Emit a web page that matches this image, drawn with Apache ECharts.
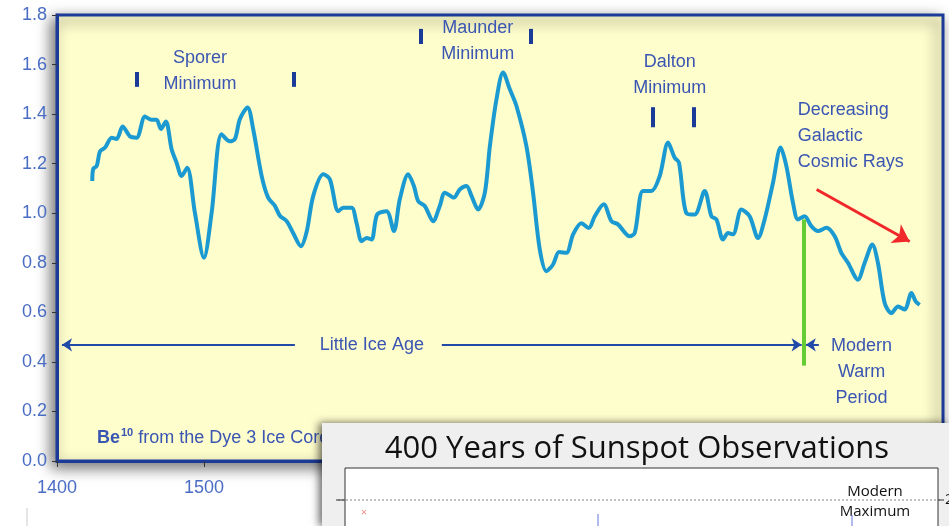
<!DOCTYPE html>
<html>
<head>
<meta charset="utf-8">
<script src="https://cdn.jsdelivr.net/npm/echarts@6/dist/echarts.min.js"></script>
<style>
  html, body { margin: 0; padding: 0; background: #fff; }
  #main { width: 949px; height: 526px; }
</style>
</head>
<body>
<div id="main"></div>
<script>
// Be10 record, Dye 3 ice core
var years = [1424, 1424.7, 1427, 1429.3, 1432.7, 1437.2, 1440.6, 1444.7, 1449.7, 1454.2,
    1459.9, 1464.4, 1467.8, 1470.7, 1474.1, 1478, 1481.4, 1484.8, 1488.6, 1493.9,
    1500, 1505.2, 1512, 1517.7, 1521.1, 1524.5, 1529.7, 1533.5, 1539.3, 1543.7,
    1548.3, 1551.7, 1556.3, 1560.7, 1566, 1569.9, 1574.4, 1581.2, 1585.7, 1591.4,
    1594.8, 1600.5, 1603.9, 1607.3, 1610.7, 1614.1, 1617.9, 1624.3, 1629.3, 1633.3,
    1639, 1642.9, 1645.8, 1650.3, 1656, 1660.5, 1664, 1670.1, 1674.1, 1678.7,
    1682.1, 1686.6, 1691.2, 1694.6, 1699.1, 1703.6, 1708.2, 1712.7, 1719.5, 1724,
    1728.6, 1733.1, 1737.6, 1741.7, 1746.7, 1751.2, 1756.9, 1761.9, 1766, 1772.1,
    1777.3, 1781.8, 1789.8, 1793.2, 1798.8, 1804.6, 1810.2, 1815.9, 1820.4, 1823.3,
    1828.4, 1834, 1840.8, 1845.4, 1848.8, 1853.3, 1856.7, 1860.1, 1865.8, 1871.4,
    1877.1, 1881.6, 1887.3, 1892.5, 1896.4, 1900.9, 1904.3, 1908.8, 1913.4, 1917.9,
    1923.6, 1929.3, 1933.8, 1938.3, 1945.1, 1949.7, 1954.9, 1958.7, 1963.3, 1967.8,
    1972.4, 1976.9, 1981.5, 1984.4, 1987.1]
var be10 = [1.13, 1.18, 1.19, 1.25, 1.265, 1.305, 1.30, 1.35, 1.31, 1.305,
    1.39, 1.377, 1.377, 1.34, 1.37, 1.258, 1.204, 1.15, 1.184, 1.00,
    0.82, 1.00, 1.319, 1.29, 1.30, 1.38, 1.427, 1.34, 1.15, 1.063,
    1.03, 0.99, 0.968, 0.92, 0.867, 0.925, 1.07, 1.157, 1.137, 1.008,
    1.022, 1.022, 0.96, 0.887, 0.90, 0.894, 0.995, 1.008, 0.928, 1.056,
    1.157, 1.11, 1.049, 1.029, 0.968, 1.029, 1.083, 1.063, 1.096, 1.11,
    1.07, 1.015, 1.083, 1.27, 1.46, 1.568, 1.50, 1.433, 1.27, 1.083,
    0.853, 0.766, 0.793, 0.843, 0.84, 0.914, 0.96, 0.94, 0.988, 1.036,
    0.968, 0.955, 0.907, 0.92, 1.09, 1.09, 1.15, 1.285, 1.224, 1.204,
    1.00, 0.995, 1.09, 0.988, 0.975, 0.894, 0.92, 0.915, 1.015, 0.988,
    0.90, 0.975, 1.123, 1.265, 1.19, 1.042, 0.975, 0.988, 0.948, 0.928,
    0.941, 0.907, 0.84, 0.80, 0.732, 0.80, 0.874, 0.80, 0.638, 0.597,
    0.624, 0.611, 0.678, 0.644, 0.63]

// start / end of the solar minima (year marks)
var minimaMarks = [1454.4, 1561.2, 1647.6, 1722.4, 1805.4, 1833.3]
var minimaMarkY = [[1.51, 1.57], [1.51, 1.57], [1.683, 1.744], [1.683, 1.744], [1.347, 1.428], [1.347, 1.428]]

var blue = '#1c3a97'
var textBlue = '#3a56b2'
var labelFont = 'Liberation Sans'

var myChart = echarts.init(document.getElementById('main'))

var seriesData = years.map(function(y, i) { return [y, be10[i]] })

var marks = minimaMarks.map(function(x, i) {
    return [
        { coord: [x, minimaMarkY[i][0]], symbol: 'none', lineStyle: { color: blue, width: 4, type: 'solid' } },
        { coord: [x, minimaMarkY[i][1]], symbol: 'none' }
    ]
})

var arrowStyle = { color: '#2149a8', width: 2, type: 'solid' }

var lines = marks.concat([
    // Little Ice Age arrow (two halves around the label)
    [{ coord: [1403.4, 0.469], symbol: 'arrow', symbolSize: 10, lineStyle: arrowStyle },
     { coord: [1561.9, 0.469], symbol: 'none' }],
    [{ coord: [1661.9, 0.469], symbol: 'none', lineStyle: arrowStyle },
     { coord: [1906.8, 0.469], symbol: 'arrow', symbolSize: 10 }],
    [{ coord: [1918.5, 0.469], symbol: 'none', lineStyle: arrowStyle },
     { coord: [1909.6, 0.469], symbol: 'arrow', symbolSize: 10 }],
    // boundary of the modern warm period
    [{ coord: [1908.2, 0.975], symbol: 'none', lineStyle: { color: '#66cc33', width: 4, type: 'solid' } },
     { coord: [1908.2, 0.385], symbol: 'none' }],
    // decreasing cosmic rays
    [{ coord: [1917, 1.096], symbol: 'none', lineStyle: { color: '#f0282a', width: 3, type: 'solid' } },
     { coord: [1980.3, 0.886], symbol: 'arrow', symbolSize: 16 }]
])

function note(text, x, y, align) {
    return {
        coord: [x, y],
        symbol: 'rect',
        symbolSize: 0,
        label: {
            show: true,
            position: 'inside',
            formatter: text,
            align: align || 'center',
            color: textBlue,
            fontFamily: labelFont,
            fontSize: 18,
            lineHeight: 26
        }
    }
}

var notes = [
    note('Sporer\nMinimum', 1497.3, 1.574),
    note('Maunder\nMinimum', 1686.4, 1.693),
    note('Dalton\nMinimum', 1817, 1.557),
    note('Decreasing\nGalactic\nCosmic Rays', 1904.1, 1.312, 'left'),
    note('Modern\nWarm\nPeriod', 1947.6, 0.361),
    note('Little Ice Age', 1614.3, 0.469),
    {
        coord: [1427.2, 0.093],
        symbol: 'rect',
        symbolSize: 0,
        label: {
            show: true,
            position: 'inside',
            align: 'left',
            formatter: '{b|Be}{s|10}{t| from the Dye 3 Ice Core}',
            rich: {
                b: { color: textBlue, fontFamily: labelFont, fontSize: 18, fontWeight: 'bold' },
                s: { color: textBlue, fontFamily: labelFont, fontSize: 11, fontWeight: 'bold', verticalAlign: 'top', padding: [0, 0, 10, 1] },
                t: { color: textBlue, fontFamily: labelFont, fontSize: 18 }
            }
        }
    }
]

myChart.setOption({
    animation: false,
    backgroundColor: '#ffffff',
    grid: {
        show: true,
        left: 57,
        right: 6,
        top: 15,
        bottom: 65,
        outerBoundsMode: 'none',
        containLabel: false,
        backgroundColor: '#fefdcc',
        borderColor: blue,
        borderWidth: 3,
        shadowColor: 'rgba(0,0,0,0.55)',
        shadowBlur: 14,
        shadowOffsetX: -4,
        shadowOffsetY: 5
    },
    xAxis: {
        type: 'value',
        min: 1400,
        max: 2003,
        interval: 100,
        splitLine: { show: false },
        axisLine: { lineStyle: { color: blue, width: 3 } },
        axisTick: { length: 6, lineStyle: { color: '#333', width: 1 } },
        axisLabel: {
            color: '#4a6dc4',
            fontFamily: labelFont,
            fontSize: 18,
            margin: 18,
            formatter: function(v) { return v % 100 === 0 && v < 1900 ? v : '' }
        }
    },
    yAxis: {
        type: 'value',
        min: 0,
        max: 1.8,
        interval: 0.2,
        splitLine: { show: false },
        axisLine: { show: true, lineStyle: { color: blue, width: 3 } },
        axisTick: { show: true, length: 5, lineStyle: { color: '#333', width: 1 } },
        axisLabel: {
            color: '#4a6dc4',
            fontFamily: labelFont,
            fontSize: 18,
            margin: 10,
            formatter: function(v) { return v.toFixed(1) }
        }
    },
    series: [{
        name: 'Be10',
        type: 'line',
        data: seriesData,
        smooth: 0.3,
        showSymbol: false,
        lineStyle: { color: '#1b9ad2', width: 4 },
        markLine: {
            silent: true,
            label: { show: false },
            data: lines
        },
        markPoint: {
            silent: true,
            data: notes
        }
    }],
    // inset of the second picture, laid over the bottom right corner
    graphic: [
        { type: 'rect', shape: { x: 322, y: 423, width: 627, height: 103 },
          style: { fill: '#efefef', shadowColor: 'rgba(0,0,0,0.6)', shadowBlur: 8, shadowOffsetX: -3 }, z: 100 },
        { type: 'text', x: 637, y: 449, z: 101,
          style: { text: '400 Years of Sunspot Observations', fill: '#111', font: '31px "Open Sans"', textAlign: 'center', textVerticalAlign: 'middle' } },
        { type: 'rect', shape: { x: 345, y: 468, width: 593, height: 70 }, z: 101,
          style: { fill: '#fff', stroke: '#333', lineWidth: 1 } },
        { type: 'line', shape: { x1: 338, y1: 500, x2: 940, y2: 500 }, z: 102,
          style: { stroke: '#888', lineWidth: 1, lineDash: [2, 2] } },
        { type: 'line', shape: { x1: 336, y1: 500, x2: 345, y2: 500 }, z: 102, style: { stroke: '#333', lineWidth: 1 } },
        { type: 'line', shape: { x1: 938, y1: 500, x2: 944, y2: 500 }, z: 102, style: { stroke: '#333', lineWidth: 1 } },
        { type: 'text', x: 945, y: 500, z: 102,
          style: { text: '2', fill: '#111', font: '15px "Open Sans"', textVerticalAlign: 'middle' } },
        { type: 'text', x: 875, y: 502, z: 102,
          style: { text: 'Modern\nMaximum', fill: '#111', font: '15px "Open Sans"', textAlign: 'center', textVerticalAlign: 'middle', lineHeight: 20 } },
        { type: 'text', x: 364, y: 513, z: 102,
          style: { text: '×', fill: '#e88', font: '11px "Open Sans"', textAlign: 'center', textVerticalAlign: 'middle' } },
        { type: 'line', shape: { x1: 598, y1: 514, x2: 598, y2: 526 }, z: 102, style: { stroke: '#6677dd', lineWidth: 1 } },
        { type: 'line', shape: { x1: 852, y1: 515, x2: 852, y2: 526 }, z: 102, style: { stroke: '#6677dd', lineWidth: 1 } },
        { type: 'line', shape: { x1: 27, y1: 508, x2: 27, y2: 526 }, style: { stroke: '#ccc', lineWidth: 1 } }
    ]
})
</script>
</body>
</html>
